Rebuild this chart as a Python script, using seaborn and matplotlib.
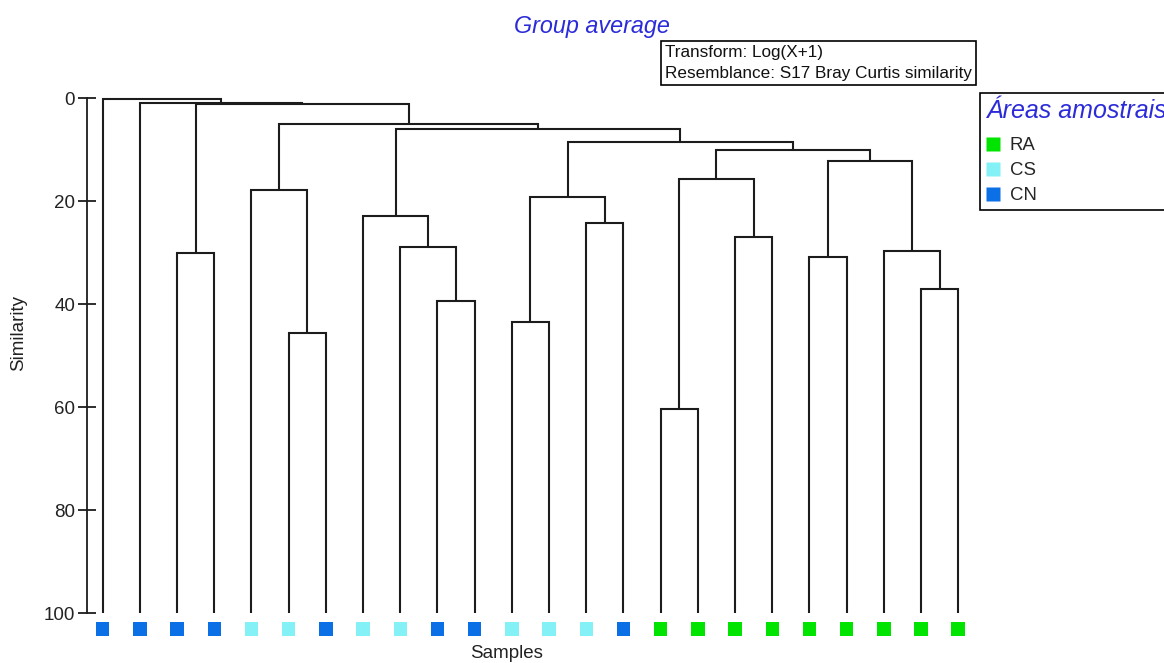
import numpy as np
import pandas as pd
import matplotlib
matplotlib.use("Agg")
import matplotlib.pyplot as plt
from matplotlib.lines import Line2D
import seaborn as sns

# Sample area of each leaf, in dendrogram order (left to right)
sample_groups = ["CN", "CN", "CN", "CN", "CS", "CS", "CN", "CS", "CS", "CN",
                 "CN", "CS", "CS", "CS", "CN", "RA", "RA", "RA", "RA", "RA",
                 "RA", "RA", "RA", "RA"]

# Group-average agglomeration steps: leaves are 0..23, each merge creates node 24, 25, ...
merge_left = [15, 5, 11, 9, 22, 19, 2, 21, 8, 17, 13, 7,
              26, 4, 24, 29, 38, 36, 35, 37, 30, 1, 0]
merge_right = [16, 6, 12, 10, 23, 20, 3, 28, 27, 18, 14, 32,
               34, 25, 33, 31, 39, 40, 41, 42, 43, 44, 45]
merge_similarity = [60.3, 45.5, 43.4, 39.4, 37.1, 30.8, 30.1, 29.6, 28.9, 27.0, 24.3, 22.9,
                    19.2, 17.8, 15.7, 12.2, 10.0, 8.4, 5.96, 5.05, 1.2, 0.9, 0.1]

group_order = ["RA", "CS", "CN"]
group_colors = {"RA": "#00e400", "CS": "#84f1f7", "CN": "#0b6fe6"}
similarity_ticks = [0, 20, 40, 60, 80, 100]

sns.set_style("white")
plt.rcParams["font.family"] = ["Liberation Sans", "DejaVu Sans"]

W, H = 1164, 663
fig = plt.figure(figsize=(W / 100, H / 100), dpi=100)
ax = fig.add_axes([87 / W, 1 - 636.5 / H, 888 / W, 540.8 / H])

# Dendrogram links: each merge joins its two children at the merge similarity
n = len(sample_groups)
xpos = {i: float(i) for i in range(n)}
level = {i: 100.0 for i in range(n)}
for k, (a, b, s) in enumerate(zip(merge_left, merge_right, merge_similarity)):
    xa, xb = xpos[a], xpos[b]
    ax.plot([xa, xa, xb, xb], [level[a], s, s, level[b]], color="#1c1c1c",
            lw=1.5, solid_joinstyle="miter", solid_capstyle="butt", clip_on=False)
    xpos[n + k] = (xa + xb) / 2
    level[n + k] = s

# Coloured squares under the leaves
leaves = pd.DataFrame({"sample": np.arange(n), "group": sample_groups})
leaves["marker_level"] = 103.0
sns.scatterplot(data=leaves, x="sample", y="marker_level", hue="group",
                palette=group_colors, marker="s", s=95, linewidth=0,
                legend=False, ax=ax, clip_on=False)

ax.set_xlim(-0.422, 23.45)
ax.set_ylim(104.5, -0.5)
ax.set_yticks(similarity_ticks)
ax.set_xticks([])
for side in ["top", "right", "bottom"]:
    ax.spines[side].set_visible(False)
ax.spines["left"].set_bounds(0, 100)
ax.spines["left"].set_color("#1c1c1c")
ax.spines["left"].set_linewidth(1.3)
ax.tick_params(axis="y", direction="inout", length=13, width=1.3, pad=2,
               labelsize=13.5, colors="#1c1c1c", left=True)
ax.tick_params(axis="y", labelcolor="#222222")

ax.set_ylabel("Similarity", fontsize=13.5, color="#222222")
ax.yaxis.set_label_coords(-0.0676, 0.561)
ax.set_xlabel("Samples", fontsize=13.5, color="#222222")
ax.xaxis.set_label_coords(0.473, -0.0157)

fig.text(591.7 / W, 1 - 26 / H, "Group average", ha="center", va="center",
         style="italic", color="#2b2bd9", fontsize=16.8)

fig.text(665 / W, 1 - 45 / H, "Transform: Log(X+1)\nResemblance: S17 Bray Curtis similarity",
         ha="left", va="top", fontsize=12.3, linespacing=1.5, color="#111111",
         bbox=dict(boxstyle="square,pad=0.25", fc="white", ec="black", lw=1.2))

handles = [Line2D([], [], ls="none", marker="s", ms=9.5, mfc=group_colors[g], mec="none")
           for g in group_order]
leg = fig.legend(handles, group_order, loc="upper left",
                 bbox_to_anchor=(980 / W, 1 - 93 / H), frameon=True, fancybox=False,
                 edgecolor="black", title="Áreas amostrais",
                 title_fontproperties={"style": "italic", "size": 18},
                 fontsize=13.4, alignment="left", handlelength=0.8, handletextpad=0.5,
                 labelspacing=0.435, borderpad=0.3, borderaxespad=0)
leg._legend_box.sep = 10.5
leg.get_title().set_color("#2b2bd9")
leg.get_frame().set_linewidth(1.2)
leg.get_frame().set_alpha(1)

fig.savefig("out.png", dpi=100, facecolor="white")
